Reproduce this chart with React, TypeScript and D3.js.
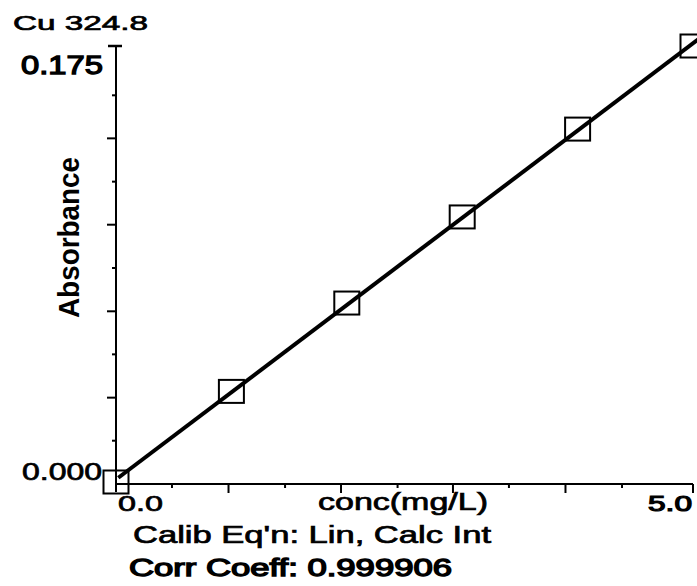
import React from "react";
import * as d3 from "d3";

const concentrations = [0, 1, 2, 3, 4, 5];
const absorbances = [0.0008, 0.037, 0.0723, 0.1067, 0.1418, 0.175];
const xTicks = [0.485, 0.975, 1.465, 1.95, 2.44, 2.92, 3.405, 3.895, 4.385, 5.0];
const xLongTicks = [0.975, 1.95, 2.92, 3.895, 5.0];
const yTicks = [0.0173, 0.0345, 0.0518, 0.069, 0.0863, 0.1036, 0.1208, 0.1381, 0.1553];
const yLongTicks = [0.0345, 0.069, 0.1036, 0.1381];
const title = "Cu 324.8";
const yMaxLabel = "0.175";
const yMinLabel = "0.000";
const xMinLabel = "0.0";
const xMaxLabel = "5.0";
const xTitle = "conc(mg/L)";
const yTitle = "Absorbance";
const eqnText = "Calib Eq'n: Lin, Calc Int";
const corrText = "Corr Coeff: 0.999906";

const W = 697;
const H = 586;
const font = "'Liberation Sans', Arial, sans-serif";

export default function App() {
  const x = d3.scaleLinear().domain([0, 5]).range([116, 693]);
  const y = d3.scaleLinear().domain([0, 0.175]).range([484, 46]);

  // least-squares fit from the data
  const mx = d3.mean(concentrations)!;
  const my = d3.mean(absorbances)!;
  const sxy = d3.sum(concentrations.map((c, i) => (c - mx) * (absorbances[i] - my)));
  const sxx = d3.sum(concentrations.map((c) => (c - mx) ** 2));
  const slope = sxy / sxx;
  const icpt = my - slope * mx;
  const fitX = [0.02, 5.05];
  const line = d3
    .line<number>()
    .x((d) => x(d))
    .y((d) => y(icpt + slope * d));

  const longSet = new Set(xLongTicks);
  const yLongSet = new Set(yLongTicks);
  const med = { stroke: "#000", strokeWidth: 0.7 };

  return (
    <svg
      width={W}
      height={H}
      style={{ position: "absolute", left: 0, top: 0, background: "#fff" }}
    >
      <rect x={0} y={0} width={W} height={H} fill="#fff" />
      {/* axes */}
      <line x1={x(0)} x2={x(0)} y1={y(0.175)} y2={y(0) + 8} stroke="#000" strokeWidth={2} />
      <line x1={x(0) - 8} x2={x(0) + 6} y1={y(0.175)} y2={y(0.175)} stroke="#000" strokeWidth={2.5} />
      <line x1={x(0)} x2={x(5)} y1={y(0)} y2={y(0)} stroke="#000" strokeWidth={2} />
      {yTicks.map((t) => (
        <line
          key={"y" + t}
          x1={x(0) - (yLongSet.has(t) ? 9 : 4)}
          x2={x(0)}
          y1={y(t)}
          y2={y(t)}
          stroke="#000"
          strokeWidth={2}
        />
      ))}
      {xTicks.map((t) => (
        <line
          key={"x" + t}
          x1={x(t)}
          x2={x(t)}
          y1={y(0)}
          y2={y(0) + (longSet.has(t) ? 9 : 4)}
          stroke="#000"
          strokeWidth={2}
        />
      ))}
      {/* fit line */}
      <path d={line(fitX) || ""} stroke="#000" strokeWidth={4} fill="none" />
      {/* points */}
      {concentrations.map((c, i) => (
        <rect
          key={"p" + i}
          x={x(c) - 12.5}
          y={y(absorbances[i]) - 11.5}
          width={25}
          height={23}
          fill="none"
          stroke="#000"
          strokeWidth={2}
        />
      ))}
      {/* texts */}
      <text x={13} y={30} fontFamily={font} fontSize={21} textLength={135} lengthAdjust="spacingAndGlyphs" {...med}>
        {title}
      </text>
      <text x={21} y={74} fontFamily={font} fontSize={26} textLength={82} lengthAdjust="spacingAndGlyphs" stroke="#000" strokeWidth={1.3}>
        {yMaxLabel}
      </text>
      <text x={22} y={480} fontFamily={font} fontSize={24} textLength={80} lengthAdjust="spacingAndGlyphs" {...med}>
        {yMinLabel}
      </text>
      <text x={118} y={511} fontFamily={font} fontSize={22} textLength={45} lengthAdjust="spacingAndGlyphs" {...med}>
        {xMinLabel}
      </text>
      <text x={648} y={511} fontFamily={font} fontSize={22} textLength={44} lengthAdjust="spacingAndGlyphs" stroke="#000" strokeWidth={1.2}>
        {xMaxLabel}
      </text>
      <text x={318} y={510} fontFamily={font} fontSize={23} textLength={170} lengthAdjust="spacingAndGlyphs" {...med}>
        {xTitle}
      </text>
      <text x={133} y={543} fontFamily={font} fontSize={23} textLength={358} lengthAdjust="spacingAndGlyphs" {...med}>
        {eqnText}
      </text>
      <text x={129} y={576} fontFamily={font} fontSize={23} textLength={323} lengthAdjust="spacingAndGlyphs" stroke="#000" strokeWidth={1.3}>
        {corrText}
      </text>
      <text
        transform="translate(79,318) rotate(-90)"
        fontFamily={font}
        fontSize={29}
        fontWeight="bold"
        textLength={161}
        lengthAdjust="spacingAndGlyphs"
      >
        {yTitle}
      </text>
    </svg>
  );
}
